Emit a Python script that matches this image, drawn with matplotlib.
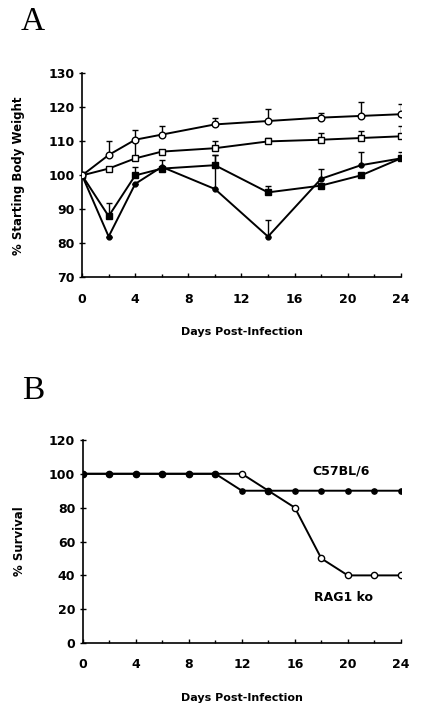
import numpy as np
import matplotlib
matplotlib.use('Agg')
import matplotlib.pyplot as plt

plt.rcParams['font.family'] = ['DejaVu Sans']

# Panel A: body weight
days_a = [0, 2, 4, 6, 10, 14, 18, 21, 24]
open_circ = [100, 106, 110.5, 112, 115, 116, 117, 117.5, 118]
open_circ_err = [0, 4, 3, 2.5, 2, 3.5, 1.5, 4, 3]
open_sq = [100, 102, 105, 107, 108, 110, 110.5, 111, 111.5]
open_sq_err = [0, 0, 5.5, 0, 2, 1, 2, 2, 3]
fill_sq = [100, 88, 100, 102, 103, 95, 97, 100, 105]
fill_sq_err = [0, 4, 2.5, 2.5, 3, 2, 0, 0, 2]
fill_circ = [100, 82, 97.5, 102.5, 96, 82, 99, 103, 105]
fill_circ_err = [0, 0, 0, 0, 10, 5, 3, 4, 0]

# Panel B: survival
days_b = [0, 2, 4, 6, 8, 10, 12, 14, 16, 18, 20, 22, 24]
c57 = [100, 100, 100, 100, 100, 100, 90, 90, 90, 90, 90, 90, 90]
rag = [100, 100, 100, 100, 100, 100, 100, 90, 80, 50, 40, 40, 40]

fig = plt.figure(figsize=(4.21, 7.13), dpi=100)
axA = fig.add_axes([0.195, 0.611, 0.757, 0.286])
axB = fig.add_axes([0.197, 0.098, 0.755, 0.285])

lw = 1.4
def err(ax, x, y, e):
    ax.errorbar(x, y, yerr=[np.zeros(len(e)), e], fmt='none', ecolor='black',
                elinewidth=1.0, capsize=2.5, capthick=1.0, zorder=2)

err(axA, days_a, open_circ, open_circ_err)
err(axA, days_a, open_sq, open_sq_err)
err(axA, days_a, fill_sq, fill_sq_err)
err(axA, days_a, fill_circ, fill_circ_err)
axA.plot(days_a, fill_circ, '-o', color='black', ms=3.5, lw=lw, zorder=3)
axA.plot(days_a, fill_sq, '-s', color='black', ms=4.2, lw=lw, zorder=3)
axA.plot(days_a, open_sq, '-s', color='black', mfc='white', ms=4.8, mew=1.0, lw=lw, zorder=4)
axA.plot(days_a, open_circ, '-o', color='black', mfc='white', ms=4.8, mew=1.0, lw=lw, zorder=4)

axA.set_ylim(70, 130)
axA.set_yticks(range(70, 131, 10))
axA.set_ylabel('% Starting Body Weight', fontsize=8.5, fontweight='bold')

axB.plot(days_b, rag, '-o', color='black', mfc='white', ms=4.5, mew=1.0, lw=lw, zorder=3)
axB.plot(days_b, c57, '-o', color='black', ms=3.8, lw=lw, zorder=4)
axB.set_ylim(0, 120)
axB.set_yticks(range(0, 121, 20))
axB.set_ylabel('% Survival', fontsize=8.5, fontweight='bold')
axB.text(19.5, 99.5, 'C57BL/6', fontsize=9, fontweight='bold', ha='center', va='baseline')
axB.text(19.7, 25, 'RAG1 ko', fontsize=9, fontweight='bold', ha='center', va='baseline')

for ax in (axA, axB):
    ax.set_xlim(0, 24)
    ax.set_xticks(range(0, 25, 4))
    ax.set_xticks(range(0, 25, 2), minor=True)
    ax.spines['top'].set_visible(False)
    ax.spines['right'].set_visible(False)
    ax.spines['left'].set_linewidth(1.2)
    ax.spines['bottom'].set_linewidth(1.2)
    ax.tick_params(axis='x', direction='in', length=3, width=1, labelsize=9, pad=11)
    ax.tick_params(axis='x', which='minor', direction='in', length=2, width=1)
    ax.tick_params(axis='y', direction='inout', length=5, width=1, labelsize=9, pad=3)
    for t in ax.get_xticklabels() + ax.get_yticklabels():
        t.set_fontweight('bold')
    ax.set_xlabel('Days Post-Infection', fontsize=8, fontweight='bold')
    ax.xaxis.set_label_coords(0.5, -0.245)
    ax.xaxis.label.set_va('top')
    ax.yaxis.set_label_coords(-0.18, 0.5)

fig.text(0.05, 0.958, 'A', fontsize=24, family='Liberation Serif')
fig.text(0.053, 0.440, 'B', fontsize=24, family='Liberation Serif')

fig.savefig('out.png', dpi=100)
